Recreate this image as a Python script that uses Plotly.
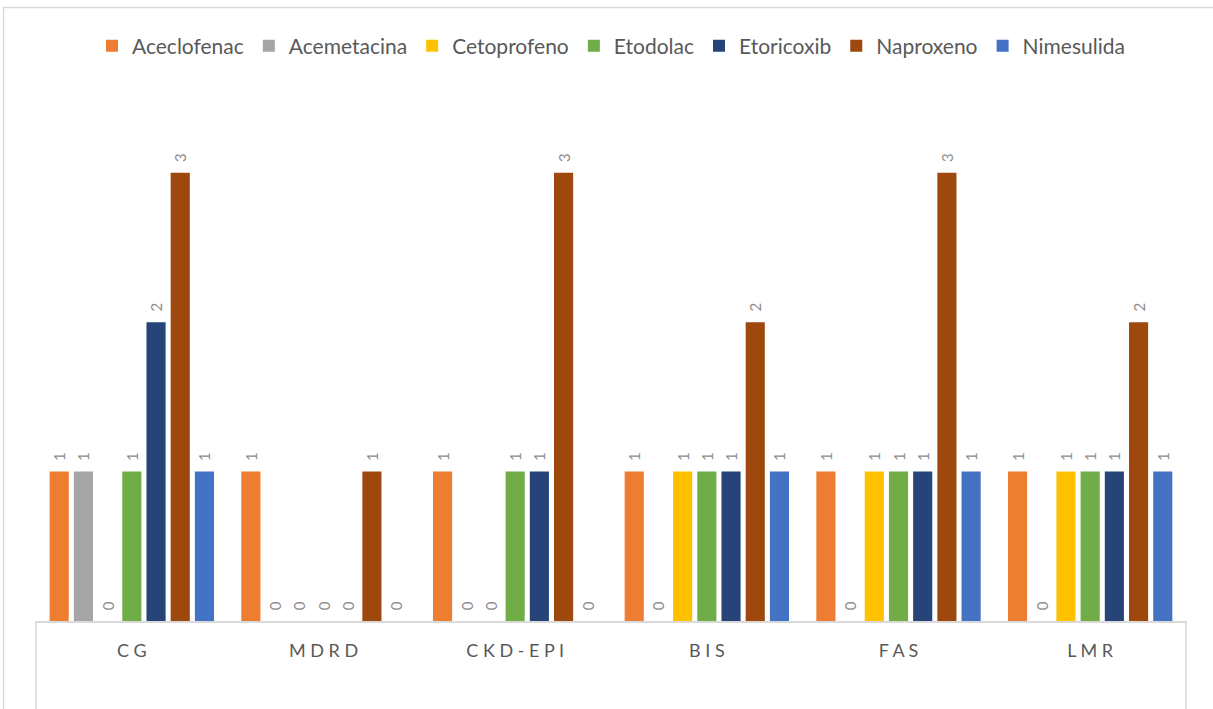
import plotly.graph_objects as go

categories = ["CG", "MDRD", "CKD-EPI", "BIS", "FAS", "LMR"]
series_names = ["Aceclofenac", "Acemetacina", "Cetoprofeno", "Etodolac", "Etoricoxib", "Naproxeno", "Nimesulida"]
aceclofenac = [1, 1, 1, 1, 1, 1]
acemetacina = [1, 0, 0, 0, 0, 0]
cetoprofeno = [0, 0, 0, 1, 1, 1]
etodolac = [1, 0, 1, 1, 1, 1]
etoricoxib = [2, 0, 1, 1, 1, 1]
naproxeno = [3, 1, 3, 2, 3, 2]
nimesulida = [1, 0, 0, 1, 1, 1]
colors = ["#ED7D31", "#A5A5A5", "#FFC000", "#70AD47", "#264478", "#9E480E", "#4472C4"]

values = [aceclofenac, acemetacina, cetoprofeno, etodolac, etoricoxib, naproxeno, nimesulida]
tick_text = [" ".join(list(c)) for c in categories]

fig = go.Figure()
for name, vals, col in zip(series_names, values, colors):
    fig.add_trace(go.Bar(
        x=categories, y=vals, name=name,
        marker=dict(color=col, line=dict(width=0)),
        text=vals, texttemplate="\u00a0\u00a0%{y}", textposition="outside",
        textangle=-90, cliponaxis=False,
        textfont=dict(family="Lato", size=15, color="#8C8C8C"),
    ))

grey = "#D9D9D9"
fig.update_layout(
    barmode="group", bargap=0.116, bargroupgap=0.21,
    width=1213, height=709,
    margin=dict(l=36, r=27, t=98, b=88),
    paper_bgcolor="white", plot_bgcolor="white",
    font=dict(family="Lato", color="#595959"),
    legend=dict(orientation="h", x=0.5, xanchor="center", y=1 - 46 / 709, yref="container",
                yanchor="middle", font=dict(size=21, color="#595959"),
                bgcolor="rgba(0,0,0,0)", itemwidth=30, traceorder="normal"),
    showlegend=True,
    xaxis=dict(tickvals=categories, ticktext=tick_text, showline=True, linecolor=grey,
               linewidth=1.5, ticks="", ticklabelstandoff=13,
               tickfont=dict(size=18, color="#595959"), showgrid=False),
    yaxis=dict(range=[0, 3.5], visible=False, showgrid=False, zeroline=False),
    shapes=[
        dict(type="line", xref="paper", yref="paper", x0=0, x1=0, y0=0, y1=-0.3,
             line=dict(color=grey, width=1.5)),
        dict(type="line", xref="paper", yref="paper", x0=1, x1=1, y0=0, y1=-0.3,
             line=dict(color=grey, width=1.5)),
        dict(type="rect", xref="paper", yref="paper", x0=(3.5 - 36) / 1150, x1=1.05,
             y0=-0.3, y1=(621 - 7.5) / 523, line=dict(color=grey, width=1.5)),
    ],
)
fig.write_html("out.html")
